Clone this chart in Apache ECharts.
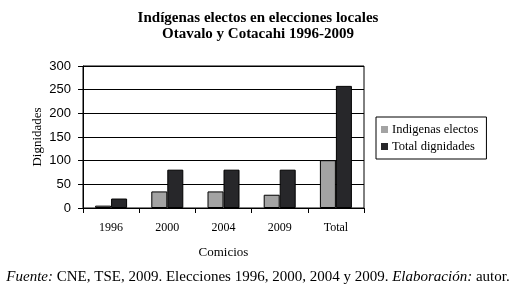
<!DOCTYPE html>
<html>
<head>
<meta charset="utf-8">
<script src="https://cdn.jsdelivr.net/npm/echarts@6/dist/echarts.min.js"></script>
<style>
html, body { margin: 0; padding: 0; background: #fff; }
#chart { width: 516px; height: 289px; }
</style>
</head>
<body>
<div id="chart"></div>
<script>
const categories = ['1996', '2000', '2004', '2009', 'Total'];
const indigenas = [5, 35, 35, 28, 101];
const totalDignidades = [20, 81, 81, 81, 258];
const yTicks = [0, 50, 100, 150, 200, 250, 300];

const chart = echarts.init(document.getElementById('chart'), null, { renderer: 'canvas' });
const serif = "'Times New Roman', 'Liberation Serif', serif";
const sans = "'Liberation Sans', sans-serif";

let option = {
    backgroundColor: '#fff',
    textStyle: { fontFamily: serif, color: '#000' },
    title: {
        text: 'Indígenas electos en elecciones locales\nOtavalo y Cotacahi 1996-2009',
        left: 'center',
        top: 5,
        textStyle: { fontFamily: serif, fontSize: 15, fontWeight: 'bold', color: '#000', lineHeight: 16 }
    },
    grid: {
        left: 83, right: 152, top: 66, bottom: 81,
        show: true, borderColor: '#000', borderWidth: 1
    },
    legend: {
        orient: 'vertical',
        left: 376, top: 117,
        icon: 'rect',
        itemWidth: 7, itemHeight: 7, itemGap: 4,
        padding: [6, 8, 6, 5],
        borderColor: '#000', borderWidth: 1, borderRadius: 0,
        textStyle: { fontFamily: serif, fontSize: 12.5, color: '#000', padding: [0, 0, 0, -1] },
        data: [
            { name: 'Indigenas electos', itemStyle: { borderWidth: 0 } },
            { name: 'Total dignidades', itemStyle: { borderWidth: 0 } }
        ]
    },
    xAxis: {
        type: 'category',
        data: categories,
        name: 'Comicios',
        nameLocation: 'middle',
        nameGap: 38,
        nameTextStyle: { fontFamily: serif, fontSize: 13, color: '#000' },
        axisLine: { lineStyle: { color: '#000' } },
        axisTick: { show: true, length: 5, lineStyle: { color: '#000' } },
        axisLabel: { fontFamily: serif, fontSize: 12, color: '#000', margin: 14 }
    },
    yAxis: {
        type: 'value',
        min: yTicks[0],
        max: yTicks[yTicks.length - 1],
        interval: 50,
        name: 'Dignidades',
        nameLocation: 'middle',
        nameGap: 39,
        nameMoveOverlap: false,
        nameTextStyle: { fontFamily: serif, fontSize: 13, color: '#000' },
        axisLine: { show: true, lineStyle: { color: '#000' } },
        axisTick: { show: true, length: 5, lineStyle: { color: '#000' } },
        axisLabel: { fontFamily: sans, fontSize: 13, color: '#000', margin: 12 },
        splitLine: { lineStyle: { color: '#000', width: 1 } }
    },
    series: [
        {
            name: 'Indigenas electos',
            type: 'bar',
            data: indigenas,
            barWidth: 16,
            barGap: '0%',
            itemStyle: { color: '#a3a3a3', borderColor: '#000', borderWidth: 1 }
        },
        {
            name: 'Total dignidades',
            type: 'bar',
            data: totalDignidades,
            barWidth: 16,
            itemStyle: { color: '#27272a', borderColor: '#000', borderWidth: 1 }
        }
    ],
    graphic: [
        {
            type: 'text',
            left: 'center',
            top: 270,
            style: {
                text: '{i|Fuente:}{n| CNE, TSE, 2009. Elecciones 1996, 2000, 2004 y 2009. }{i|Elaboración:}{n| autor.}',
                rich: {
                    i: { fontStyle: 'italic', fontFamily: serif, fontSize: 15, fill: '#000' },
                    n: { fontFamily: serif, fontSize: 15, fill: '#000' }
                }
            }
        }
    ]
};

window.addEventListener('resize', function() {
    chart.resize();
});

option && chart.setOption(option);
</script>
</body>
</html>
